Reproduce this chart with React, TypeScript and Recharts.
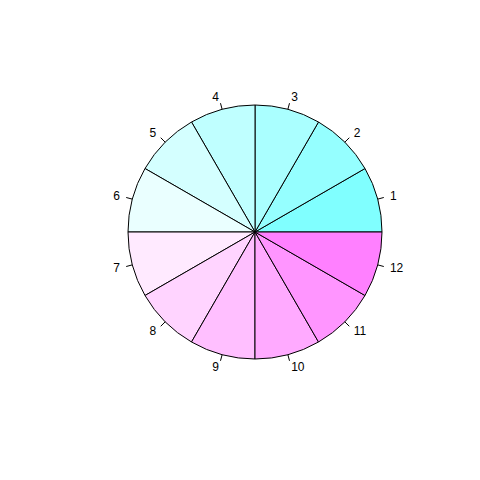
import React from "react";
import { PieChart, Pie, Cell } from "recharts";

const labels = ["1", "2", "3", "4", "5", "6", "7", "8", "9", "10", "11", "12"];
const values = [1, 1, 1, 1, 1, 1, 1, 1, 1, 1, 1, 1];
const colors = [
  "#80FFFF", "#95FFFF", "#AAFFFF", "#BFFFFF", "#D4FFFF", "#EAFFFF",
  "#FFEAFF", "#FFD4FF", "#FFBFFF", "#FFAAFF", "#FF95FF", "#FF80FF",
];

const data = labels.map((l, i) => ({ name: l, value: values[i] }));

const RAD = Math.PI / 180;

const renderLabel = (props: any) => {
  const { cx, cy, midAngle, outerRadius, index } = props;
  const c = Math.cos(-midAngle * RAD);
  const s = Math.sin(-midAngle * RAD);
  const x1 = cx + outerRadius * c;
  const y1 = cy + outerRadius * s;
  const x2 = cx + outerRadius * 1.05 * c;
  const y2 = cy + outerRadius * 1.05 * s;
  const tx = cx + outerRadius * 1.1 * c;
  const ty = cy + outerRadius * 1.1 * s;
  return (
    <g key={`lab-${index}`}>
      <line x1={x1} y1={y1} x2={x2} y2={y2} stroke="#000" strokeWidth={1} />
      <text
        x={tx}
        y={ty}
        textAnchor={c >= 0 ? "start" : "end"}
        dominantBaseline="central"
        fill="#000"
        fontSize={12}
        fontFamily="'Liberation Sans', Arial, sans-serif"
      >
        {labels[index]}
      </text>
    </g>
  );
};

export default function App() {
  return (
    <div style={{ position: "absolute", left: 0, top: 0, width: 480, height: 480, background: "#fff" }}>
      <PieChart width={480} height={480} margin={{ top: 0, right: 0, bottom: 0, left: 0 }}>
        <Pie
          data={data}
          dataKey="value"
          cx={255}
          cy={232}
          innerRadius={0}
          outerRadius={127}
          startAngle={0}
          endAngle={360}
          stroke="#000"
          strokeWidth={1}
          label={renderLabel}
          labelLine={false}
          isAnimationActive={false}
        >
          {data.map((d, i) => (
            <Cell key={d.name} fill={colors[i]} />
          ))}
        </Pie>
      </PieChart>
    </div>
  );
}
